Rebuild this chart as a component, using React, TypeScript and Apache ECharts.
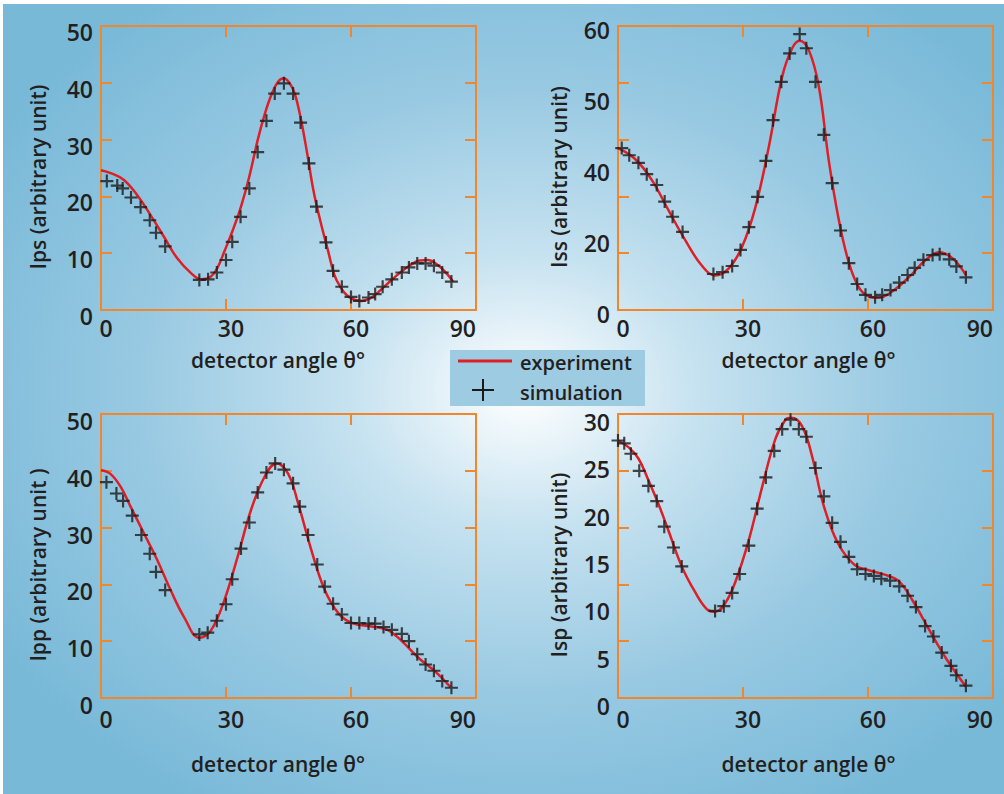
import React, { useEffect, useRef } from "react";
import * as echarts from "echarts";

// ---------- data ----------
const xTickLabels = ["0", "30", "60", "90"];
const ipsTickLabels = ["0", "10", "20", "30", "40", "50"];
const issTickLabels = ["0", "20", "40", "50", "60"];
const ippTickLabels = ["0", "10", "20", "30", "40", "50"];
const ispTickLabels = ["0", "5", "10", "15", "20", "25", "30"];

const ipsExperiment = [
  [0, 24.6], [2.3, 24.1], [5.5, 22.9], [8.7, 20.2], [11.9, 16.7], [15.1, 12.9], [18.3, 9.1],
  [21.6, 6.5], [24.0, 5.4], [26.4, 5.9], [28.0, 7.5], [29.6, 10.3], [31.6, 14.0], [33.6, 18.2],
  [35.6, 23.5], [37.6, 29.9], [39.3, 34.5], [40.9, 37.9], [42.5, 40.2], [43.9, 40.8], [45.2, 40.0],
  [46.5, 38.1], [48.0, 33.5], [49.5, 27.5], [51.0, 21.0], [52.6, 15.8], [54.5, 10.4], [56.0, 6.2],
  [57.5, 4.0], [59.0, 2.6], [60.8, 1.8], [62.6, 1.6], [64.5, 2.0], [66.5, 3.1], [69.0, 4.8],
  [71.5, 6.4], [74.0, 7.8], [76.5, 8.7], [78.5, 8.8], [80.5, 8.1], [82.5, 6.8], [84.5, 5.0],
];
const ipsSimulation = [
  [1.4, 22.7], [3.9, 21.9], [5.2, 21.4], [7.2, 19.8], [9.5, 18.1], [11.7, 15.8], [13.2, 13.6],
  [15.4, 11.2], [23.6, 5.3], [25.7, 5.4], [27.8, 6.6], [30.0, 8.8], [31.5, 12.0], [33.5, 16.4],
  [35.6, 21.4], [37.6, 27.8], [39.7, 33.3], [41.7, 38.1], [43.9, 39.9], [46.1, 38.1], [47.9, 33.0],
  [49.9, 25.8], [51.7, 18.2], [54.0, 11.9], [55.7, 6.9], [57.8, 4.1], [60.0, 2.3], [62.0, 1.6],
  [64.2, 2.2], [65.8, 2.8], [67.6, 4.1], [69.8, 5.4], [72.2, 6.6], [73.9, 7.5], [75.9, 8.2],
  [77.9, 8.2], [79.9, 7.8], [81.9, 6.6], [84.1, 5.0],
];

const issExperiment = [
  [0, 34.2], [4.1, 31.9], [8.1, 27.5], [12.1, 21.1], [16.1, 14.8], [20.1, 9.4], [23.3, 7.3],
  [26.6, 8.8], [29.8, 13.4], [33.0, 21.8], [36.2, 34.5], [39.4, 49.3], [41.8, 55.3], [43.6, 56.9],
  [45.8, 54.9], [48.2, 47.2], [50.6, 31.5], [53.0, 19.0], [55.4, 10.0], [57.8, 4.8], [60.2, 2.9],
  [62.6, 2.6], [65.8, 3.9], [69.9, 7.0], [73.9, 10.6], [77.1, 12.2], [80.3, 10.9], [83.5, 7.4],
];
const issSimulation = [
  [0.9, 34.2], [2.7, 32.7], [4.9, 31.1], [6.9, 28.7], [9.3, 26.4], [11.2, 22.9], [13.1, 19.7],
  [15.5, 16.5], [22.9, 7.6], [25.1, 8.0], [27.4, 9.3], [29.4, 12.7], [31.4, 17.5], [33.5, 23.9],
  [35.5, 31.5], [37.2, 40.1], [39.2, 48.2], [41.2, 54.2], [43.6, 58.3], [45.2, 55.3], [47.4, 48.2],
  [49.4, 37.0], [51.4, 26.8], [53.4, 16.8], [55.4, 9.9], [57.4, 5.5], [59.4, 3.2], [61.7, 2.7],
  [63.4, 3.2], [65.4, 4.2], [67.5, 5.8], [69.5, 7.4], [71.2, 8.9], [73.3, 10.6], [75.5, 11.6],
  [77.2, 11.8], [79.5, 10.7], [81.2, 9.2], [83.5, 6.9],
];

const ippExperiment = [
  [0, 40.1], [2.2, 39.5], [4.7, 37.2], [7.1, 33.7], [10.3, 29.0], [13.5, 24.3], [16.7, 19.0],
  [19.9, 14.3], [23.6, 10.6], [26.4, 11.9], [29.6, 17.2], [32.8, 24.9], [36.0, 33.1], [39.3, 39.0],
  [42.1, 41.3], [44.9, 39.5], [47.3, 34.3], [50.5, 26.0], [53.7, 19.0], [57.0, 14.9], [60.2, 13.2],
  [65.0, 12.6], [69.0, 11.9], [72.2, 10.0], [76.3, 7.0], [80.3, 4.6], [83.9, 1.9],
];
const ippSimulation = [
  [1.3, 38.0], [3.7, 36.0], [5.3, 34.7], [7.5, 32.1], [9.7, 28.7], [11.7, 25.4], [13.2, 22.2],
  [15.4, 19.0], [23.6, 11.2], [25.6, 11.5], [27.8, 13.6], [30.0, 16.5], [31.5, 20.9], [33.6, 26.3],
  [35.6, 30.9], [37.6, 36.2], [39.7, 39.7], [41.8, 41.3], [43.9, 40.2], [46.1, 37.8], [47.7, 33.7],
  [49.7, 28.7], [51.9, 23.5], [53.7, 19.6], [55.7, 16.6], [57.8, 14.7], [60.0, 13.2], [62.0, 13.2],
  [64.2, 13.1], [65.8, 13.1], [67.8, 12.5], [69.8, 12.0], [72.2, 11.3], [73.9, 10.0], [75.9, 7.7],
  [77.9, 5.9], [79.9, 4.8], [81.9, 3.0], [84.1, 1.8],
];

const ispExperiment = [
  [0, 27.2], [2.5, 26.5], [4.9, 25.3], [7.3, 23.0], [9.7, 20.5], [12.1, 17.7], [15.3, 13.9],
  [18.5, 11.2], [21.3, 9.4], [23.3, 9.1], [25.7, 10.0], [28.2, 12.3], [31.4, 16.7], [34.6, 22.3],
  [37.8, 27.4], [40.2, 29.4], [41.6, 29.6], [44.2, 28.7], [46.6, 25.5], [49.0, 20.9], [51.4, 17.7],
  [53.8, 15.6], [57.0, 14.0], [60.2, 13.5], [64.2, 13.0], [67.5, 12.3], [70.7, 10.3], [74.7, 7.2],
  [78.7, 4.2], [83.5, 1.2],
];
const ispSimulation = [
  [0, 27.2], [1.5, 26.9], [3.1, 25.8], [5.1, 24.0], [7.3, 22.4], [9.3, 20.8], [11.1, 18.1],
  [13.3, 15.9], [15.3, 13.9], [23.3, 9.2], [25.4, 9.7], [27.4, 11.1], [29.2, 13.1], [31.4, 16.1],
  [33.4, 20.0], [35.5, 23.3], [37.5, 26.1], [39.4, 28.4], [41.4, 29.4], [43.4, 28.4], [45.2, 27.6],
  [47.4, 24.3], [49.4, 21.3], [51.4, 18.5], [53.4, 16.5], [55.4, 14.9], [57.4, 13.6], [59.4, 13.1],
  [61.4, 12.9], [63.2, 12.6], [65.3, 12.4], [67.5, 11.8], [69.5, 10.8], [71.5, 9.6], [73.7, 7.6],
  [75.7, 6.5], [77.7, 4.8], [79.9, 3.4], [81.2, 2.4], [83.5, 1.3],
];

// ---------- styling ----------
const FONT = "'Open Sans', 'Noto Sans', 'DejaVu Sans', sans-serif";
const ORANGE = "#f1872c";
const TEXT = "#231f20";
const RED = "#de2026";
const BLACK = "#1a1a1a";
const PLUS = "path://M5,0H7V12H5Z M0,5H12V7H0Z";

const panels = [
  {
    title: "Ips (arbitrary unit)", exp: ipsExperiment, sim: ipsSimulation,
    yMax: 50, yInterval: 10, yTicks: [10, 20, 30, 40], yLabels: ipsTickLabels,
    left: 101, top: 26, xLabelMargin: 7, xNameGap: 39, xNamePad: [0, 21, 0, 0], yNameGap: 53, yLabelShift: 6,
  },
  {
    title: "Iss (arbitrary unit)", exp: issExperiment, sim: issSimulation,
    yMax: 60, yInterval: 15, yTicks: [12, 24, 36, 48], yLabels: issTickLabels,
    left: 618, top: 26, xLabelMargin: 7, xNameGap: 39, xNamePad: [0, 0, 0, 6], yNameGap: 49, yLabelShift: 4,
  },
  {
    title: "Ipp (arbitrary unit )", exp: ippExperiment, sim: ippSimulation,
    yMax: 50, yInterval: 10, yTicks: [10, 20, 30, 40], yLabels: ippTickLabels,
    left: 101, top: 414, xLabelMargin: 10, xNameGap: 55, xNamePad: [0, 21, 0, 0], yNameGap: 53, yLabelShift: 7,
  },
  {
    title: "Isp (arbitrary unit)", exp: ispExperiment, sim: ispSimulation,
    yMax: 30, yInterval: 5, yTicks: [6, 12, 18, 24], yLabels: ispTickLabels,
    left: 618, top: 414, xLabelMargin: 10, xNameGap: 55, xNamePad: [0, 0, 0, 6], yNameGap: 49, yLabelShift: 8,
  },
];

const W = 375;
const H = 284;

function buildOption() {
  const axisLine = { show: true, onZero: false, lineStyle: { color: ORANGE, width: 2 } };
  const labelText = { color: TEXT, fontSize: 23, fontFamily: FONT, fontWeight: 600 };
  const grid: any[] = [];
  const xAxis: any[] = [];
  const yAxis: any[] = [];
  const series: any[] = [];

  panels.forEach((p, i) => {
    grid.push({ left: p.left, top: p.top, width: W, height: H, containLabel: false });
    const xTick = { show: true, inside: true, length: 11, customValues: [30, 60], lineStyle: { color: ORANGE, width: 2 } };
    xAxis.push({
      gridIndex: i, type: "value", min: 0, max: 90, interval: 30, position: "bottom",
      axisLine, axisTick: xTick, splitLine: { show: false },
      axisLabel: {
        ...labelText, lineHeight: 22, margin: p.xLabelMargin, alignMaxLabel: "right", padding: [0, 0, 0, 10],
        formatter: (v: number) => xTickLabels[Math.round(v / 30)] ?? "",
      },
      name: "detector angle θ°", nameLocation: "middle", nameGap: p.xNameGap,
      nameTextStyle: { ...labelText, fontSize: 21, lineHeight: 21, padding: p.xNamePad },
    });
    xAxis.push({
      gridIndex: i, type: "value", min: 0, max: 90, interval: 30, position: "top",
      axisLine, axisTick: xTick, splitLine: { show: false }, axisLabel: { show: false },
    });
    const yTick = { show: true, inside: true, length: 11, customValues: p.yTicks, lineStyle: { color: ORANGE, width: 2 } };
    yAxis.push({
      gridIndex: i, type: "value", min: 0, max: p.yMax, interval: p.yInterval, position: "left",
      axisLine, axisTick: yTick, splitLine: { show: false },
      axisLabel: {
        ...labelText, margin: 8, verticalAlign: "top", lineHeight: p.yLabelShift * 2,
        formatter: (v: number) => p.yLabels[Math.round(v / p.yInterval)] ?? "",
      },
      name: p.title, nameLocation: "middle", nameGap: p.yNameGap, nameRotate: 90,
      nameTextStyle: { ...labelText, fontSize: 21, lineHeight: 21, padding: [0, 18, 0, 0] },
    });
    yAxis.push({
      gridIndex: i, type: "value", min: 0, max: p.yMax, interval: p.yInterval, position: "right",
      axisLine, axisTick: yTick, splitLine: { show: false }, axisLabel: { show: false },
    });
    series.push({
      type: "line", name: "experiment", xAxisIndex: 2 * i, yAxisIndex: 2 * i, data: p.exp,
      smooth: 0.4, symbol: "none", showSymbol: false,
      lineStyle: { color: RED, width: 2.5 }, z: 2,
    });
    series.push({
      type: "scatter", name: "simulation", xAxisIndex: 2 * i, yAxisIndex: 2 * i, data: p.sim,
      symbol: PLUS, symbolSize: 13, itemStyle: { color: BLACK }, clip: false, z: 3,
    });
  });

  const legendText = { fill: TEXT, fontSize: 20, fontFamily: FONT, fontWeight: 600, verticalAlign: "middle" };
  const graphic = [
    { type: "rect", shape: { x: 450, y: 350, width: 195, height: 56 }, style: { fill: "#9dcbe2" }, z: 10 },
    { type: "line", shape: { x1: 458, y1: 361, x2: 512, y2: 361 }, style: { stroke: RED, lineWidth: 3 }, z: 11 },
    { type: "line", shape: { x1: 472, y1: 390, x2: 494, y2: 390 }, style: { stroke: BLACK, lineWidth: 2 }, z: 11 },
    { type: "line", shape: { x1: 483, y1: 379, x2: 483, y2: 401 }, style: { stroke: BLACK, lineWidth: 2 }, z: 11 },
    { type: "text", x: 520, y: 362, style: { ...legendText, text: "experiment" }, z: 11 },
    { type: "text", x: 520, y: 392, style: { ...legendText, text: "simulation" }, z: 11 },
  ];

  return { animation: false, backgroundColor: "transparent", grid, xAxis, yAxis, series, graphic };
}

export default function App() {
  const ref = useRef<HTMLDivElement>(null);
  useEffect(() => {
    document.body.style.margin = "0";
    if (!ref.current) return;
    const chart = echarts.init(ref.current, undefined, { renderer: "svg" });
    chart.setOption(buildOption() as any);
    return () => chart.dispose();
  }, []);
  return (
    <div style={{ position: "relative", width: 1004, height: 794, background: "#ffffff", overflow: "hidden" }}>
      <div
        style={{
          position: "absolute", left: 3, top: 4, right: 0, bottom: 0,
          background:
            "radial-gradient(ellipse 62% 62% at 52% 49%, #ffffff 0%, #c6e2f0 28%, #98c9e2 62%, #78b9d8 100%)",
        }}
      />
      <div ref={ref} style={{ position: "absolute", left: 0, top: 0, width: 1004, height: 794 }} />
    </div>
  );
}
